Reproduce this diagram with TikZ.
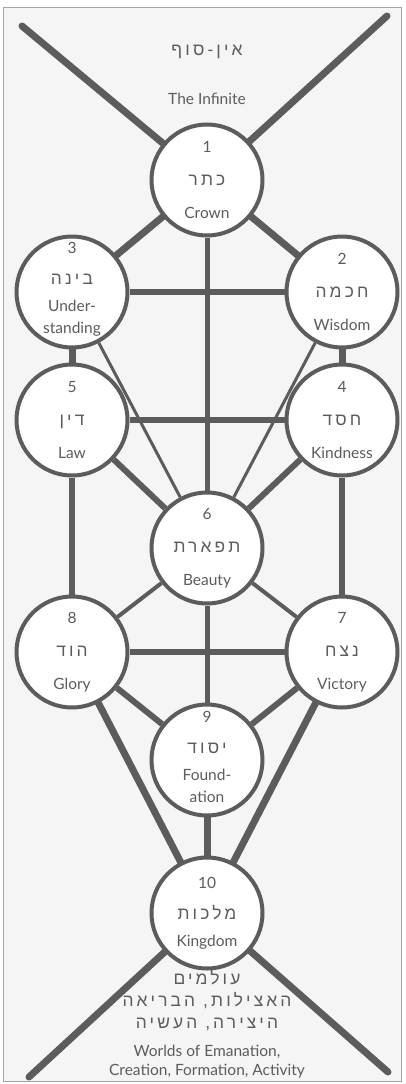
\documentclass[tikz,border=0pt]{standalone}
\usepackage{fontspec}
\setmainfont{Lato}
\newfontfamily\hebfont[Script=Hebrew,Scale=1.12,LetterSpace=18]{Liberation Sans}
\TeXXeTstate=1
\usepackage{xcolor}
\usetikzlibrary{backgrounds}
\definecolor{ink}{gray}{0.36}
\definecolor{paper}{gray}{0.96}
\newcommand{\heb}[1]{{\hebfont\beginR #1\endR}}

\begin{document}
\begin{tikzpicture}[x=1pt, y=-1pt,
    every node/.style={font=\fontsize{15.5}{22}\selectfont, text=ink},
    sefira/.style={circle, draw=ink, fill=white, line width=4pt, minimum size=111pt, inner sep=0pt},
    inscr/.style={align=center, inner sep=0pt},
    heavy/.style={draw=ink, line width=7pt, line cap=round},
    bar/.style={draw=ink, line width=6pt},
    stem/.style={draw=ink, line width=5pt},
    slim/.style={draw=ink, line width=4pt},
    hair/.style={draw=ink, line width=3pt},
]
\useasboundingbox (0,0) rectangle (405,1084);

\node[sefira] (c1) at (207,180) {};
\node[sefira] (c3) at (72,292) {};
\node[sefira] (c2) at (342,292) {};
\node[sefira] (c5) at (72,420) {};
\node[sefira] (c4) at (342,420) {};
\node[sefira] (c6) at (207,548) {};
\node[sefira] (c8) at (72,652) {};
\node[sefira] (c7) at (342,652) {};
\node[sefira] (c9) at (207,760) {};
\node[sefira] (c10) at (207,913) {};

\coordinate (tl) at (22,26);
\coordinate (tr) at (387,16);
\coordinate (bl) at (29,1077);
\coordinate (br) at (388,1072);

\node[inscr] (t1) at (c1) {1\\[11pt]\heb{כתר}\\[11pt]Crown};
\node[inscr, yshift=3pt] (t3) at (c3) {3\\[9pt]\heb{בינה}\\[5pt]Under-\\standing};
\node[inscr] (t2) at (c2) {2\\[11pt]\heb{חכמה}\\[11pt]Wisdom};
\node[inscr] (t5) at (c5) {5\\[11pt]\heb{דין}\\[11pt]Law};
\node[inscr] (t4) at (c4) {4\\[11pt]\heb{חסד}\\[11pt]Kindness};
\node[inscr] (t6) at (c6) {6\\[11pt]\heb{תפארת}\\[11pt]Beauty};
\node[inscr] (t8) at (c8) {8\\[11pt]\heb{הוד}\\[11pt]Glory};
\node[inscr] (t7) at (c7) {7\\[11pt]\heb{נצח}\\[11pt]Victory};
\node[inscr, yshift=3pt] (t9) at (c9) {9\\[9pt]\heb{יסוד}\\[5pt]Found-\\ation};
\node[inscr] (t10) at (c10) {10\\[9pt]\heb{מלכות}\\[5pt]Kingdom};

\node[inscr] (ensof) at (207,52) {\heb{אין-סוף}};
\node[inscr] (infinite) at (207,99) {The Infinite};
\node[inscr] (olamot) at (207,1001) {\heb{עולמים}\\\heb{האצילות, הבריאה}\\\heb{היצירה, העשיה}};
\node[inscr, font=\fontsize{15.5}{19}\selectfont] (worlds) at (207,1062) {Worlds of Emanation,\\Creation, Formation, Activity};

\begin{scope}[on background layer]
\draw[gray!70, line width=0.8pt, fill=paper] (3,7) rectangle (401,1081);
\draw[heavy] (tl) -- (c1);
\draw[heavy] (tr) -- (c1);
\draw[heavy] (bl) -- (c10);
\draw[heavy] (br) -- (c10);
\draw[heavy] (c1) -- (c3);
\draw[heavy] (c1) -- (c2);
\draw[stem] (c1) -- (c6);
\draw[bar] (c3) -- (c2);
\draw[heavy] (c3) -- (c5);
\draw[heavy] (c2) -- (c4);
\draw[hair] (c3) -- (c6);
\draw[hair] (c2) -- (c6);
\draw[bar] (c5) -- (c4);
\draw[bar] (c5) -- (c6);
\draw[bar] (c4) -- (c6);
\draw[bar] (c5) -- (c8);
\draw[bar] (c4) -- (c7);
\draw[slim] (c6) -- (c8);
\draw[slim] (c6) -- (c7);
\draw[stem] (c6) -- (c9);
\draw[bar] (c8) -- (c7);
\draw[bar] (c8) -- (c9);
\draw[bar] (c7) -- (c9);
\draw[heavy] (c8) -- (c10);
\draw[heavy] (c7) -- (c10);
\draw[heavy] (c9) -- (c10);
\end{scope}
\end{tikzpicture}
\end{document}
